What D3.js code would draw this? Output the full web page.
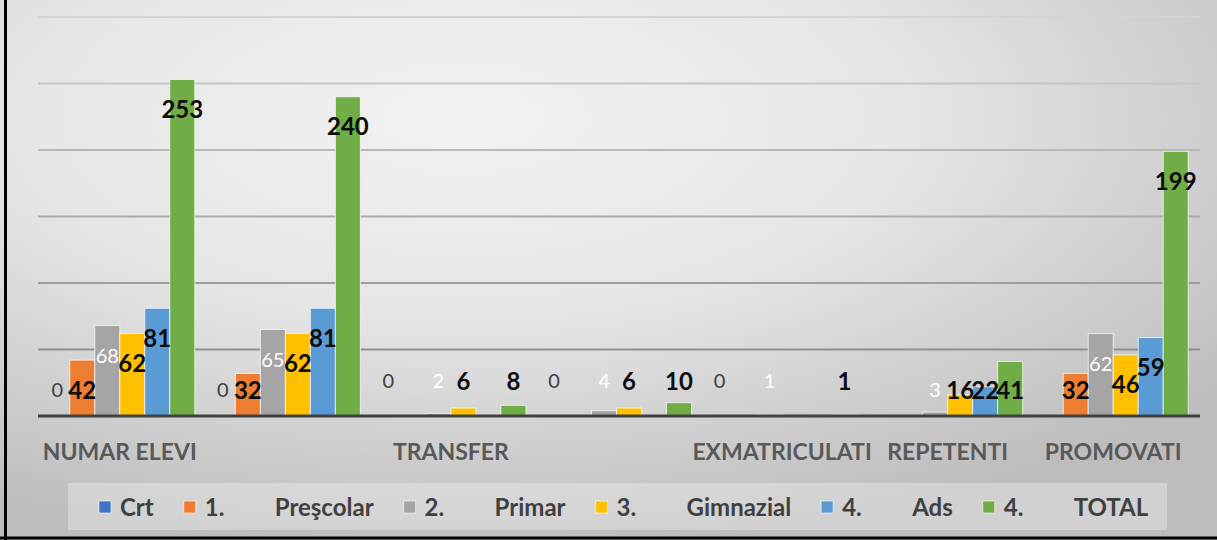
<!DOCTYPE html>
<html>
<head>
<meta charset="utf-8">
<script src="https://cdn.jsdelivr.net/npm/d3@7"></script>
<style>
  html, body { margin: 0; padding: 0; background: #fff; }
  svg { display: block; }
</style>
</head>
<body>
<script>
const categories = ["NUMAR ELEVI", "", "TRANSFER", "", "EXMATRICULATI", "REPETENTI", "PROMOVATI"]
const seriesNums = ["", "1.", "2.", "3.", "4.", "4."]
const seriesNames = ["Crt", "Preşcolar", "Primar", "Gimnazial", "Ads", "TOTAL"]
const crt = [0, 0, 0, 0, 0, null, null]
const prescolar = [42, 32, null, null, null, null, 32]
const primar = [68, 65, 2, 4, 1, 3, 62]
const gimnazial = [62, 62, 6, 6, null, 16, 46]
const ads = [81, 81, null, null, null, 22, 59]
const total = [253, 240, 8, 10, 1, 41, 199]
const yTicks = [0, 50, 100, 150, 200, 250, 300]

const seriesValues = [crt, prescolar, primar, gimnazial, ads, total]
const colors = ["#4472C4", "#ED7D31", "#A5A5A5", "#FFC000", "#5B9BD5", "#70AD47"]
// label look per series: [fill, weight, size]
const labelStyle = [
    ["#404040", "normal", 20],
    ["#0d0d0d", "bold", 24],
    ["#ffffff", "normal", 20],
    ["#0d0d0d", "bold", 24],
    ["#0d0d0d", "bold", 24],
    ["#0d0d0d", "bold", 24]
]

const width = 1217
const height = 540
const plotLeft = 37
const plotRight = 1196
const plotTop = 17
const plotBottom = 416

const svg = d3.select("body")
    .append("svg")
    .attr("width", width)
    .attr("height", height)
    .style("font-family", "Lato, 'Open Sans', sans-serif")

const defs = svg.append("defs")
const grad = defs.append("radialGradient")
    .attr("id", "bg")
    .attr("cx", "38%").attr("cy", "22%").attr("r", "80%")
grad.append("stop").attr("offset", "0%").attr("stop-color", "#f2f2f2")
grad.append("stop").attr("offset", "45%").attr("stop-color", "#e6e6e6")
grad.append("stop").attr("offset", "100%").attr("stop-color", "#bdbdbd")

svg.append("rect")
    .attr("width", width)
    .attr("height", height)
    .attr("fill", "url(#bg)")

const x0 = d3.scaleBand()
    .domain(d3.range(categories.length))
    .range([plotLeft, plotRight])
    .paddingInner(0.094)
    .paddingOuter(0.047)

const x1 = d3.scaleBand()
    .domain(d3.range(seriesValues.length))
    .range([0, x0.bandwidth()])

const y = d3.scaleLinear()
    .domain([0, 300])
    .range([plotBottom, plotTop])

const gridColor = d3.scaleLinear().domain([50, 300]).range(["#8f8f8f", "#d4d4d4"])

svg.selectAll(".grid")
    .data(yTicks.filter(t => t > 0))
    .enter()
    .append("line")
    .attr("x1", plotLeft + 1)
    .attr("x2", plotRight + 4)
    .attr("y1", t => y(t))
    .attr("y2", t => y(t))
    .attr("stroke", t => gridColor(t))
    .attr("stroke-width", 2)

// bars
const groups = svg.selectAll(".series")
    .data(seriesValues)
    .enter()
    .append("g")
    .attr("fill", (s, i) => colors[i])

groups.each(function(vals, si) {
    d3.select(this).selectAll("rect")
        .data(vals.map((v, ci) => ({ v, ci })).filter(d => d.v !== null && d.v > 0))
        .enter()
        .append("rect")
        .attr("x", d => x0(d.ci) + x1(si))
        .attr("y", d => y(d.v))
        .attr("width", x1.bandwidth())
        .attr("height", d => y(0) - y(d.v))
        .attr("stroke", "#ffffff")
        .attr("stroke-opacity", 0.7)
        .attr("stroke-width", 1)
})

// baseline
svg.append("line")
    .attr("x1", plotLeft + 1)
    .attr("x2", plotRight + 4)
    .attr("y1", y(0))
    .attr("y2", y(0))
    .attr("stroke", "#404040")
    .attr("stroke-width", 3)

// data labels
const groupMax = categories.map((c, ci) => d3.max(seriesValues, s => s[ci]))
seriesValues.forEach((vals, si) => {
    const [fill, weight, size] = labelStyle[si]
    svg.selectAll(".lab" + si)
        .data(vals.map((v, ci) => ({ v, ci })).filter(d => d.v !== null))
        .enter()
        .append("text")
        .attr("x", d => x0(d.ci) + x1(si) + x1.bandwidth() / 2)
        .attr("y", d => {
            const cap = groupMax[d.ci] < 20 ? y(0) - 35 : y(0) - 26
            return Math.min(y(d.v) + 30, cap) + size * 0.36
        })
        .attr("text-anchor", "middle")
        .attr("fill", fill)
        .attr("font-weight", weight)
        .attr("font-size", size + "px")
        .text(d => d.v)
})

// category labels
svg.selectAll(".cat")
    .data(categories)
    .enter()
    .append("text")
    .attr("x", (c, i) => x0(i) + x0.bandwidth() / 2)
    .attr("y", 460)
    .attr("text-anchor", "middle")
    .attr("fill", "#595959")
    .attr("font-weight", "bold")
    .attr("font-size", "23px")
    .text(c => c)

// legend
svg.append("rect")
    .attr("x", 68)
    .attr("y", 483)
    .attr("width", 1099)
    .attr("height", 47)
    .attr("fill", "#ffffff")
    .attr("opacity", 0.3)

const legend = svg.append("g")
    .attr("font-size", "24px")
    .attr("font-weight", "bold")
    .attr("fill", "#404040")
let lx = 99
seriesNames.forEach((name, i) => {
    legend.append("rect")
        .attr("x", lx)
        .attr("y", 501)
        .attr("width", 12)
        .attr("height", 12)
        .attr("fill", colors[i])
        .attr("stroke", "#ffffff")
        .attr("stroke-opacity", 0.6)
    let tx = lx + 21
    if (seriesNums[i]) {
        legend.append("text").attr("x", tx).attr("y", 515.5).text(seriesNums[i])
        tx += 70
    }
    const t = legend.append("text").attr("x", tx).attr("y", 515.5).text(name)
    lx = tx + t.node().getComputedTextLength() + 30
})

// frame
svg.append("line")
    .attr("x1", 5.5).attr("x2", 5.5)
    .attr("y1", 0).attr("y2", height)
    .attr("stroke", "#000").attr("stroke-width", 3)
svg.append("line")
    .attr("x1", 0).attr("x2", width)
    .attr("y1", 538).attr("y2", 538)
    .attr("stroke", "#000").attr("stroke-width", 3)
</script>
</body>
</html>
